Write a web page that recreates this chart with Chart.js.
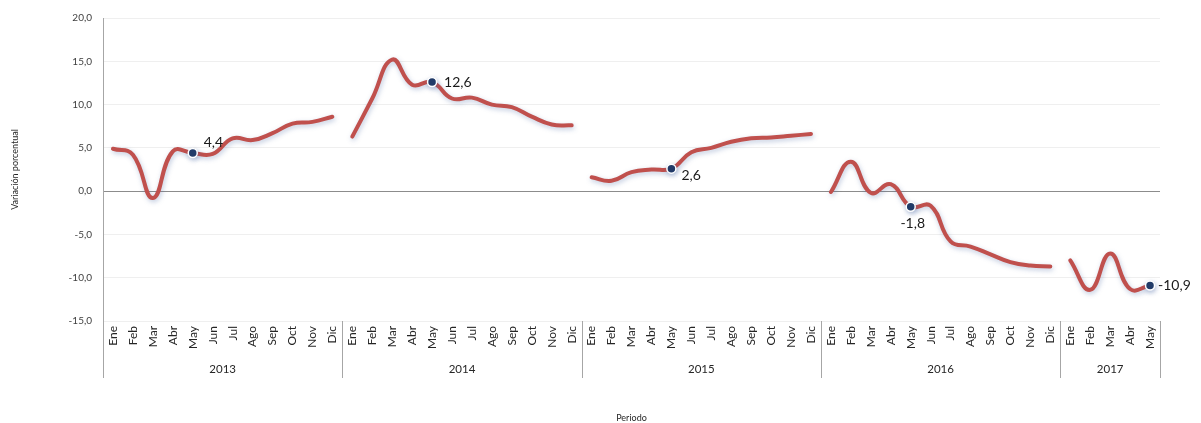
<!DOCTYPE html>
<html><head><meta charset="utf-8">
<script src="https://cdn.jsdelivr.net/npm/chart.js@4/dist/chart.umd.min.js"></script>
<style>html,body{margin:0;padding:0;background:#fff;}canvas{display:block;}</style>
</head><body>
<canvas id="c" width="1201" height="423"></canvas>
<script>
const months = ['Ene','Feb','Mar','Abr','May','Jun','Jul','Ago','Sep','Oct','Nov','Dic'];
const years = ['2013','2014','2015','2016','2017'];
const v2013 = [4.9, 4.2, -0.8, 4.6, 4.4, 4.3, 6.1, 5.9, 6.7, 7.8, 8.0, 8.6];
const v2014 = [6.3, 10.7, 15.2, 12.3, 12.6, 10.7, 10.8, 10.0, 9.7, 8.6, 7.7, 7.6];
const v2015 = [1.6, 1.2, 2.2, 2.5, 2.6, 4.5, 5.0, 5.7, 6.1, 6.2, 6.4, 6.6];
const v2016 = [-0.1, 3.4, -0.2, 0.8, -1.8, -1.7, -5.8, -6.4, -7.3, -8.2, -8.6, -8.7];
const v2017 = [-8.0, -11.4, -7.2, -11.3, -10.9];
const yTicks = [-15, -10, -5, 0, 5, 10, 15, 20];
const labelledMonth = 'May';

const series = [v2013, v2014, v2015, v2016, v2017];
const categories = [];
series.forEach((s, yi) => s.forEach((v, mi) => categories.push(months[mi])));
const total = categories.length;

const FONT = 'Lato, "Open Sans", sans-serif';
const labelOffsets = [[11, -11, 'left'], [12, 0, 'left'], [10, 7, 'left'], [2, 17, 'center'], [8, 0, 'left']];

let offset = 0;
const datasets = series.map((s, yi) => {
  const data = new Array(total).fill(null);
  s.forEach((v, i) => data[offset + i] = v);
  const mIdx = offset + months.indexOf(labelledMonth);
  const radii = data.map((v, i) => (v !== null && i === mIdx) ? 4.5 : 0);
  offset += s.length;
  return {
    label: years[yi], data, borderColor: '#C0504D', borderWidth: 4, tension: 0.45,
    spanGaps: false, pointRadius: radii, pointHoverRadius: radii,
    pointBackgroundColor: '#1F3864', pointBorderColor: '#ffffff', pointBorderWidth: 1.5,
    borderCapStyle: 'round', borderJoinStyle: 'round'
  };
});

const shadowPlugin = {
  id: 'shadow',
  beforeDatasetDraw(chart) {
    const ctx = chart.ctx; ctx.save();
    ctx.shadowColor = 'rgba(70,100,160,0.35)'; ctx.shadowBlur = 5; ctx.shadowOffsetX = 1; ctx.shadowOffsetY = 2;
  },
  afterDatasetDraw(chart) { chart.ctx.restore(); }
};

const decoPlugin = {
  id: 'deco',
  afterDraw(chart) {
    const ctx = chart.ctx, x = chart.scales.x, area = chart.chartArea;
    const half = (x.getPixelForValue(1) - x.getPixelForValue(0)) / 2;
    ctx.save();
    ctx.strokeStyle = '#a6a6a6'; ctx.lineWidth = 1;
    let start = 0;
    const bounds = [x.getPixelForValue(0) - half];
    series.forEach(s => { start += s.length; bounds.push(x.getPixelForValue(start - 1) + half); });
    bounds.forEach(b => { const bx = Math.round(b) + 0.5; ctx.beginPath(); ctx.moveTo(bx, area.bottom); ctx.lineTo(bx, 378); ctx.stroke(); });
    ctx.fillStyle = '#262626'; ctx.font = '11.5px ' + FONT; ctx.textAlign = 'center'; ctx.textBaseline = 'middle';
    years.forEach((y, i) => ctx.fillText(y, (bounds[i] + bounds[i + 1]) / 2, 369));
    // data labels
    ctx.font = '14px ' + FONT; ctx.fillStyle = '#1a1a1a';
    let off = 0;
    series.forEach((s, yi) => {
      const idx = off + months.indexOf(labelledMonth);
      if (idx - off < s.length) {
        const el = chart.getDatasetMeta(yi).data[idx];
        const o = labelOffsets[yi];
        ctx.textAlign = o[2];
        ctx.fillText(s[idx - off].toFixed(1).replace('.', ','), el.x + o[0], el.y + o[1]);
      }
      off += s.length;
    });
    ctx.restore();
  }
};

new Chart(document.getElementById('c'), {
  type: 'line',
  data: { labels: categories, datasets },
  plugins: [shadowPlugin, decoPlugin],
  options: {
    responsive: false, devicePixelRatio: 1, animation: false,
    layout: { padding: { left: 0, right: 41, top: 18, bottom: 0 } },
    plugins: { legend: { display: false }, tooltip: { enabled: false } },
    scales: {
      x: {
        offset: true,
        grid: { display: false, drawTicks: false, offset: true }, border: { display: false },
        ticks: { autoSkip: false, maxRotation: 90, minRotation: 90, padding: 5, color: '#262626', font: { family: FONT, size: 12 } },
        title: { display: true, text: 'Periodo', color: '#262626', font: { family: FONT, size: 9 }, padding: { top: 0, bottom: 0 } },
        afterFit(s) { s.height = 102; }
      },
      y: {
        min: -15, max: 20,
        afterBuildTicks(s) { s.ticks = yTicks.map(v => ({ value: v })); },
        grid: { drawTicks: false, color: c => c.tick && c.tick.value === 0 ? '#8c8c8c' : '#efefef', lineWidth: 1 },
        border: { display: true, color: '#a6a6a6' },
        ticks: { padding: 11, color: '#404040', font: { family: FONT, size: 10 }, callback: v => v.toFixed(1).replace('.', ',') },
        title: { display: true, text: 'Variación porcentual', color: '#262626', font: { family: FONT, size: 9 }, padding: { top: 10, bottom: 0 } },
        afterFit(s) { s.width = 103; }
      }
    }
  }
});
</script>
</body></html>
